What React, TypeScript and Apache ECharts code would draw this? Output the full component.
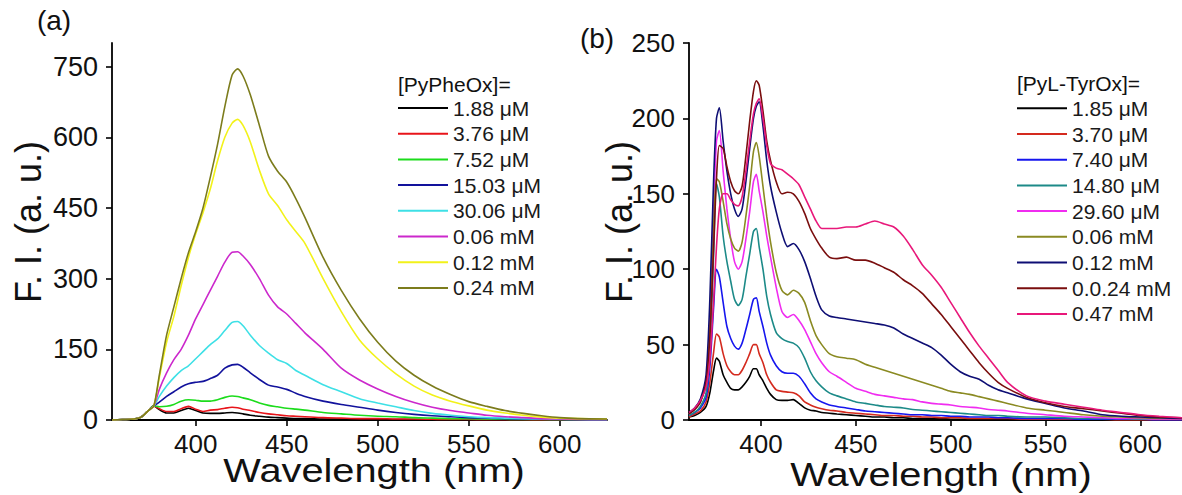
import React, { useEffect, useRef } from "react";
import * as echarts from "echarts";

// ---------- Panel (a): PyPheOx ----------
const LEFT_WL = [354, 360, 366, 370, 374, 377, 380, 384, 388, 392, 396, 400, 404, 408, 412, 416, 420, 423, 426, 430, 435, 440, 445, 450, 455, 460, 470, 480, 490, 500, 510, 520, 530, 540, 550, 560, 570, 580, 590, 600, 610, 626];
const LEFT_NAMES = ["1.88 μM", "3.76 μM", "7.52 μM", "15.03 μM", "30.06 μM", "0.06 mM", "0.12 mM", "0.24 mM"];
const LEFT_COLORS = ["#000000", "#e8141a", "#1cdc1c", "#12129c", "#3ee0e6", "#cc28cc", "#f2f21a", "#7c7c1c"];
const L_188 = [0,1,2,6,20,30, 22,15,15,20,25, 20,15,14,14,15, 16,15,13,10,8, 6,5,4,3,3, 2,2,1,1,1, 0.5,0.5,0,0,0, 0,0,0,0,0, 0];
const L_376 = [0,1,2,6,20,30, 24,18,18,24,29, 23,18,21,22,25, 27,26,23,20,16, 13,11,9,8,7, 5,4,3,3,2, 2,1.5,1,1,0.5, 0.5,0.5,0,0,0, 0];
const L_752 = [0,1,2,6,20,30, 28,29,33,40,43, 42,40,40,43,48, 51,50,47,43,36, 31,28,25,23,21, 16,13,10,8,7, 5,4,3,2.5,2, 1.5,1,1,0.5,0.5, 0];
const L_1503 = [0,1,2,6,20,30, 38,50,60,70,77, 80,82,88,95,110, 117,118,112,100,86, 74,70,65,57,50, 40,33,27,21,16, 12,9,7,5,4, 3,2,1.5,1,0.5, 0];
const L_3006 = [0,1,2,6,20,30, 50,72,90,105,115, 130,145,160,172,190, 207,209,200,180,158, 142,128,120,105,95, 75,60,45,36,28, 20,14,10,7,5, 4,3,2,1.5,1, 0.5];
const L_006 = [0,1,2,6,20,30, 65,100,128,150,180, 215,245,275,305,335, 356,357,348,330,300, 265,240,225,205,185, 150,110,85,66,50, 37,27,20,15,10, 7,5,3,2,1, 0.5];
const L_012 = [0,1,2,6,20,30, 90,165,220,285,345, 395,440,490,550,600, 630,638,625,590,530, 480,455,425,400,375, 300,230,170,130,98, 72,53,40,30,21, 15,10,6,4,3, 2];
const L_024 = [0,1,2,6,20,30, 95,180,240,300,355, 400,450,515,585,665, 732,745,730,690,625, 560,528,505,470,430, 345,275,215,165,125, 95,72,54,39,29, 20,14,9,5,3, 2];
const LEFT_VALUES = [L_188, L_376, L_752, L_1503, L_3006, L_006, L_012, L_024];
const LEFT_Y_TICKS = [0, 150, 300, 450, 600, 750];
const LEFT_X_TICKS = [400, 450, 500, 550, 600];

// ---------- Panel (b): PyL-TyrOx ----------
const RIGHT_WL = [362, 365, 368, 371, 373, 375, 376.5, 378, 380, 382, 384, 386, 388, 390, 392, 394, 396, 397.5, 399, 401, 403, 405, 408, 411, 414, 417, 420, 423, 426, 429, 432, 436, 440, 445, 450, 455, 460, 465, 470, 475, 480, 485, 490, 495, 500, 505, 510, 515, 520, 525, 530, 540, 550, 560, 570, 580, 590, 600, 610, 622];
const RIGHT_NAMES = ["1.85 μM", "3.70 μM", "7.40 μM", "14.80 μM", "29.60 μM", "0.06 mM", "0.12 mM", "0.0.24 mM", "0.47 mM"];
const RIGHT_COLORS = ["#000000", "#d42a1e", "#1616ee", "#1c8a88", "#f02cf0", "#8a8a22", "#0e0e74", "#7a0e0e", "#e8187a"];
const R_185 = [2,3,5,9,18, 33,41,39,30,25, 21,20,20,22,25, 29,34,34,30,26, 21,17,13.5,13,13, 13.5,11,8,6.5,6, 5,4.5,4,3.5,3, 2.5,2,2,1.5,1.5, 1,1,1,1,0.5, 0.5,0.5,0.5,0.5,0.5, 0.5,0.5,0,0,0, 0,0,0,0,0];
const R_370 = [2,4,6,12,25, 45,57,55,44,36, 32,30,30,33,38, 44,50,50,44,38, 30,25,20,19,18.5, 18,16,12,10,8.5, 7.5,6.5,6,5,4.5, 4,3.5,3,3,2.5, 2.5,2,2,1.5,1.5, 1.5,1,1,1,1, 1,0.5,0.5,0.5,0.5, 0.5,0,0,0,0];
const R_740 = [3,5,8,15,35, 75,100,95,78,62, 54,49,47,51,60, 70,80,81,72,62, 51,43,36,32,31, 31,29,24,18,14, 12,10,9,8,7, 6,5.5,5,4.5,4, 3.5,3.5,3,3,2.5, 2.5,2,2,2,1.5, 1.5,1,1,1,0.5, 0.5,0.5,0.5,0,0];
const R_1480 = [3,5,9,18,45, 110,157,148,122,105, 92,80,76,80,95, 110,125,127,115,100, 82,70,58,54,52, 51,48,41,32,26, 22,18,16,14,12, 11,10,9,8.5,8, 7,6.5,6,5.5,5, 4.5,4,3.5,3,3, 2.5,2,2,1.5,1, 1,1,0.5,0.5,0.5];
const R_2960 = [4,7,12,25,60, 140,185,192,165,140, 120,105,100,105,120, 138,158,163,152,138, 122,108,88,72,68, 70,66,60,52,44, 38,32,29,25,21, 19,17,16,15,14, 13.5,12,11,10.5,10, 9,8.5,8,7,6.5, 6,4.5,3.5,2.5,2, 1.5,1,1,0.5,0.5];
const R_006 = [4,7,12,25,60, 130,160,158,145,130, 120,114,112,118,135, 155,178,184,175,155, 135,118,98,86,83, 86,84,78,66,56, 50,44,42,41,40, 37,35,33,31,29, 27,25,23,21,19, 18,17,15.5,14,12.5, 11,8,6.5,5,3.5, 2.5,2,1.5,1,1];
const R_012 = [5,8,14,30,80, 160,200,207,185,165, 150,140,135,140,158, 180,200,208,211,195, 172,155,138,124,115, 117,113,105,94,82, 73,69,68,67,66, 65,64,63,61,57, 54,51,48,43,37, 32,29,27,23,20, 18,14,11,8,6, 3.5,2.5,2,1.5,1];
const R_024 = [4,7,12,25,55, 115,160,182,180,168, 158,152,150,155,175, 198,218,225,222,205, 185,172,158,150,151, 150,145,137,127,120, 114,108,107,108,106, 106,104,101,98,93, 89,84,77,70,62, 54,46,38,31,25, 21,15,11.5,9,7.5, 6,4.5,3,2,1.5];
const R_047 = [5,8,13,22,40, 80,115,140,150,150, 146,143,142,148,165, 185,203,210,213,200, 182,170,167,166,163, 160,156,148,140,132, 127,127,127,128,128, 130,132,130,128,122, 113,103,96,88,78, 68,58,49,41,33, 25,16,12.5,10.5,8.5, 6.5,5,3.5,2.5,1.5];
const RIGHT_VALUES = [R_185, R_370, R_740, R_1480, R_2960, R_006, R_012, R_024, R_047];
const RIGHT_Y_TICKS = [0, 50, 100, 150, 200, 250];
const RIGHT_X_TICKS = [400, 450, 500, 550, 600];

const FONT = "'Liberation Sans', Arial, sans-serif";
const SEP = "|";

function buildSeries(prefix: string, names: string[], colors: string[], wl: number[], values: number[][], idx: number) {
  return names.map((n, i) => ({
    name: prefix + SEP + n,
    type: "line",
    xAxisIndex: idx,
    yAxisIndex: idx,
    data: wl.map((w, k) => [w, values[i][k]]),
    showSymbol: false,
    symbol: "none",
    smooth: 0.25,
    color: colors[i],
    lineStyle: { width: 1.6, color: colors[i] },
    z: 2 + i,
    silent: true,
  }));
}

function axisX(gridIndex: number, min: number, max: number, ticks: number[]) {
  return {
    type: "value",
    gridIndex,
    min,
    max,
    splitLine: { show: false },
    axisLine: { onZero: false, lineStyle: { color: "#000", width: 1.8 } },
    axisTick: { show: true, inside: false, length: 6, customValues: ticks, lineStyle: { color: "#000", width: 1.6 } },
    axisLabel: { customValues: ticks, fontSize: 26, fontFamily: FONT, color: "#111", margin: 11 },
  };
}

function axisY(gridIndex: number, min: number, max: number, ticks: number[], fs: number) {
  return {
    type: "value",
    gridIndex,
    min,
    max,
    splitLine: { show: false },
    axisLine: { show: true, onZero: false, lineStyle: { color: "#000", width: 1.8 } },
    axisTick: { show: true, inside: false, length: 6, customValues: ticks, lineStyle: { color: "#000", width: 1.6 } },
    axisLabel: { customValues: ticks, fontSize: fs, fontFamily: FONT, color: "#111", margin: 14 },
  };
}

function legendFor(prefix: string, names: string[], left: number, top: number) {
  return {
    data: names.map((n) => prefix + SEP + n),
    orient: "vertical",
    left,
    top,
    padding: 0,
    icon: "rect",
    itemWidth: 50,
    itemHeight: 2,
    itemGap: 4.7,
    selectedMode: false,
    formatter: (name: string) => name.split(SEP)[1],
    textStyle: { fontSize: 21, lineHeight: 21, fontFamily: FONT, color: "#1a1a1a" },
  };
}

function txt(text: string, x: number, y: number, fontSize: number, extra: any = {}) {
  return {
    type: "text",
    x,
    y,
    silent: true,
    ...extra,
    style: {
      text,
      fontSize,
      fontFamily: FONT,
      fill: "#111",
      align: extra.align || "center",
      verticalAlign: "middle",
    },
  };
}

export default function App() {
  const ref = useRef<HTMLDivElement>(null);
  useEffect(() => {
    if (!ref.current) return;
    const chart = echarts.init(ref.current, undefined, { renderer: "svg" });
    chart.setOption({
      animation: false,
      backgroundColor: "#ffffff",
      grid: [
        { left: 112, top: 43, width: 495, height: 377 },
        { left: 689, top: 43, width: 493, height: 377 },
      ],
      xAxis: [axisX(0, 354, 626, LEFT_X_TICKS), axisX(1, 362, 622, RIGHT_X_TICKS)],
      yAxis: [axisY(0, 0, 800, LEFT_Y_TICKS, 27), axisY(1, 0, 250, RIGHT_Y_TICKS, 26)],
      legend: [legendFor("a", LEFT_NAMES, 398, 97.5), legendFor("b", RIGHT_NAMES, 1017, 97.8)],
      series: [
        ...buildSeries("a", LEFT_NAMES, LEFT_COLORS, LEFT_WL, LEFT_VALUES, 0),
        ...buildSeries("b", RIGHT_NAMES, RIGHT_COLORS, RIGHT_WL, RIGHT_VALUES, 1),
      ],
      graphic: [
        txt("(a)", 54, 20, 28),
        txt("(b)", 597, 38, 28),
        { ...txt("F. I. (a. u.)", 28, 222, 36), rotation: Math.PI / 2 },
        { ...txt("F. I. (a. u.)", 619, 222, 36), rotation: Math.PI / 2 },
        { ...txt("Wavelength (nm)", 374, 471, 34), scaleX: 1.17 },
        { ...txt("Wavelength (nm)", 941, 475, 34), scaleX: 1.17 },
        txt("[PyPheOx]=", 398, 84, 21, { align: "left" }),
        txt("[PyL-TyrOx]=", 1017, 83, 21, { align: "left" }),
      ],
    });
    return () => chart.dispose();
  }, []);
  return (
    <div
      ref={ref}
      style={{ position: "absolute", left: 0, top: 0, width: 1182, height: 495, background: "#fff" }}
    />
  );
}
